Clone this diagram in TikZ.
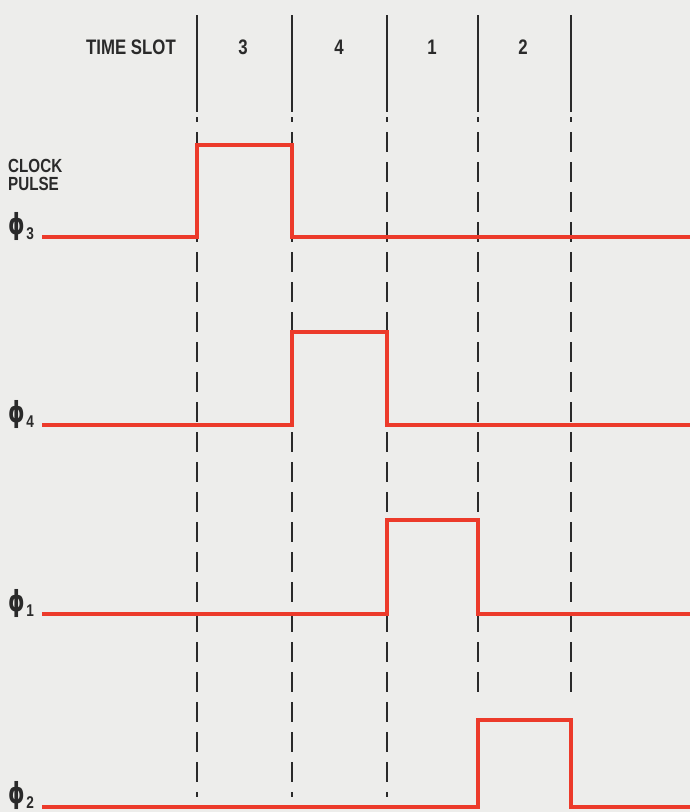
\documentclass[tikz,border=0pt]{standalone}
\usepackage{fontspec}
\setmainfont{Liberation Sans}
\newfontfamily\letfont[FakeStretch=0.8]{Liberation Sans Bold}
\newfontfamily\symfont[FakeStretch=0.72]{DejaVu Sans Bold}
\definecolor{bgcol}{HTML}{EDEDEB}
\definecolor{sigred}{HTML}{EC3A2A}
\definecolor{inkcol}{HTML}{2A2A2A}
\tikzset{
  sig/.style={draw=sigred, line width=3.6pt, line join=miter},
  slotline/.style={draw=inkcol, line width=2.2pt},
  guide/.style={draw=inkcol, line width=1.8pt, dash pattern=on 20pt off 10pt, dash phase=15pt},
  hdr/.style={font=\letfont\fontsize{21}{23}\selectfont, text=inkcol, inner sep=0pt, anchor=base},
  side/.style={font=\letfont\fontsize{19}{21}\selectfont, text=inkcol, inner sep=0pt, anchor=base west},
  phil/.style={text=inkcol, inner sep=0pt, anchor=base west}
}
\newcommand{\phisub}[1]{{\symfont\fontsize{29}{29}\selectfont ϕ}\kern1.5pt\raisebox{-5pt}{\letfont\fontsize{17}{17}\selectfont #1}}
\begin{document}
\begin{tikzpicture}[x=1pt,y=-1pt]
\fill[bgcol] (0,0) rectangle (690,812);
\useasboundingbox (0,0) rectangle (690,812);
% time slot header
\node[hdr] (ts) at (131,54) {TIME SLOT};
\node[hdr] (s3) at (243,54) {3};
\node[hdr] (s4) at (339,54) {4};
\node[hdr] (s1) at (432,54) {1};
\node[hdr] (s2) at (523,54) {2};
% slot boundary lines
\foreach \n/\x/\e in {a/197/797, b/292/797, c/387/797, d/478/702, e/571/702} {
  \coordinate (\n top) at (\x,15);
  \coordinate (\n mid) at (\x,112);
  \coordinate (\n dash) at (\x,117);
  \coordinate (\n end) at (\x,\e);
  \draw[slotline] (\n top) -- (\n mid);
  \draw[guide] (\n dash) -- (\n end);
}
% labels
\node[side] (clk) at (8,172) {CLOCK};
\node[side] (pul) at (8,190) {PULSE};
\node[phil] (p3) at (8,234) {\phisub{3}};
\node[phil] (p4) at (8,422) {\phisub{4}};
\node[phil] (p1) at (8,611) {\phisub{1}};
\node[phil] (p2) at (8,803) {\phisub{2}};
% signals
\draw[sig] (42,237) -- (197,237) -- (197,145) -- (292,145) -- (292,237) -- (690,237);
\draw[sig] (42,425) -- (292,425) -- (292,332) -- (387,332) -- (387,425) -- (690,425);
\draw[sig] (42,614) -- (387,614) -- (387,520) -- (478,520) -- (478,614) -- (690,614);
\draw[sig] (42,807) -- (478,807) -- (478,720) -- (571,720) -- (571,807) -- (690,807);
\end{tikzpicture}
\end{document}
